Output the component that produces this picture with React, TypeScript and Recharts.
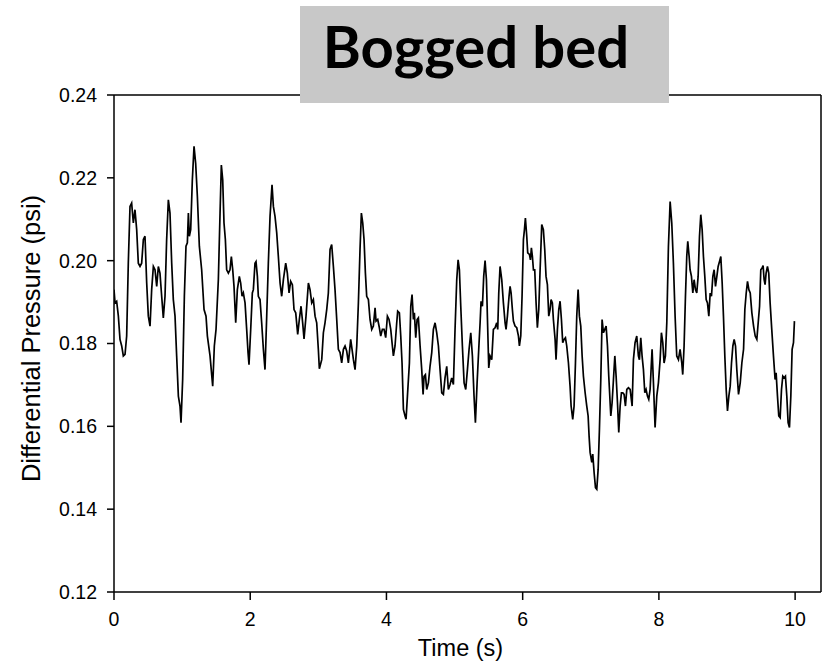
import { Line, LineChart, ReferenceLine, XAxis, YAxis } from "recharts";

// pressure trace, split into ~2 s chunks
const TIME_A = [
  0, 0.015, 0.039, 0.064, 0.088, 0.113, 0.137, 0.162, 0.186, 0.21,
  0.235, 0.259, 0.284, 0.308, 0.333, 0.357, 0.382, 0.406, 0.431, 0.455,
  0.48, 0.504, 0.529, 0.553, 0.578, 0.602, 0.627, 0.651, 0.675, 0.7,
  0.724, 0.749, 0.773, 0.798, 0.822, 0.847, 0.871, 0.896, 0.92, 0.945,
  0.969, 0.984, 1.008, 1.033, 1.057, 1.077, 1.092, 1.106, 1.126, 1.15,
  1.175, 1.199, 1.224, 1.253, 1.287, 1.322, 1.351, 1.371, 1.41, 1.449,
  1.473, 1.498, 1.532, 1.557, 1.576, 1.596, 1.615, 1.635, 1.654, 1.679,
  1.703, 1.723, 1.743, 1.762, 1.787, 1.811, 1.84,
];
const PSI_A = [
  0.193, 0.1898, 0.1902, 0.1866, 0.181, 0.1794, 0.177, 0.1774, 0.1818, 0.1994,
  0.2131, 0.2139, 0.2091, 0.2123, 0.2075, 0.1994, 0.1986, 0.1994, 0.2051, 0.2059,
  0.1946, 0.1866, 0.1842, 0.193, 0.1986, 0.1978, 0.1938, 0.1986, 0.197, 0.1914,
  0.1862, 0.1914, 0.2051, 0.2147, 0.2115, 0.1994, 0.1906, 0.1866, 0.177, 0.1673,
  0.1649, 0.1609, 0.1713, 0.1914, 0.2035, 0.2043, 0.2115, 0.2059, 0.2075, 0.2195,
  0.2276, 0.2235, 0.2155, 0.2035, 0.1978, 0.1882, 0.1866, 0.1818, 0.177, 0.1697,
  0.1794, 0.1834, 0.1954, 0.2115, 0.2231, 0.2195, 0.2091, 0.2051, 0.1978, 0.197,
  0.1978, 0.201, 0.1978, 0.1938, 0.185, 0.193, 0.1962,
];

const TIME_B = [
  1.86, 1.88, 1.899, 1.924, 1.948, 1.968, 1.982, 2.007, 2.031, 2.046,
  2.07, 2.085, 2.105, 2.119, 2.144, 2.168, 2.193, 2.217, 2.242, 2.266,
  2.291, 2.32, 2.34, 2.364, 2.389, 2.413, 2.438, 2.462, 2.487, 2.521,
  2.545, 2.57, 2.594, 2.619, 2.643, 2.668, 2.697, 2.721, 2.746, 2.77,
  2.79, 2.819, 2.854, 2.878, 2.903, 2.927, 2.952, 2.976, 3.0, 3.015,
  3.05, 3.074, 3.098, 3.123, 3.147, 3.172, 3.196, 3.221, 3.245, 3.27,
  3.294, 3.319, 3.343, 3.368, 3.392, 3.416, 3.441, 3.456, 3.475, 3.495,
  3.515, 3.539, 3.564, 3.588, 3.612, 3.632, 3.652, 3.671, 3.691, 3.71,
  3.735, 3.759,
];
const PSI_B = [
  0.1946, 0.1914, 0.1922, 0.1898, 0.1834, 0.1778, 0.1749, 0.1834, 0.1922, 0.193,
  0.1994, 0.1998, 0.1962, 0.1914, 0.1906, 0.185, 0.1786, 0.1737, 0.1866, 0.1994,
  0.2107, 0.2183, 0.2131, 0.2107, 0.2067, 0.201, 0.1946, 0.1914, 0.1954, 0.1994,
  0.197, 0.1922, 0.195, 0.1942, 0.1882, 0.1874, 0.1822, 0.1858, 0.189, 0.185,
  0.1811, 0.1866, 0.1946, 0.193, 0.1898, 0.1906, 0.1866, 0.185, 0.1786, 0.1739,
  0.1761, 0.1826, 0.185, 0.1882, 0.1922, 0.2027, 0.2039, 0.1986, 0.193, 0.1858,
  0.1786, 0.1778, 0.1753, 0.1786, 0.1794, 0.1782, 0.1753, 0.1778, 0.181, 0.1786,
  0.1761, 0.1737, 0.1794, 0.1898, 0.2027, 0.2115, 0.2091, 0.2051, 0.197, 0.1914,
  0.1906, 0.1858,
];

const TIME_C = [
  3.784, 3.808, 3.833, 3.847, 3.872, 3.896, 3.916, 3.94, 3.965, 3.989,
  4.014, 4.038, 4.063, 4.087, 4.102, 4.126, 4.151, 4.165, 4.19, 4.21,
  4.229, 4.249, 4.273, 4.288, 4.308, 4.337, 4.357, 4.376, 4.396, 4.41,
  4.43, 4.45, 4.469, 4.494, 4.518, 4.538, 4.552, 4.572, 4.591, 4.616,
  4.64, 4.665, 4.689, 4.714, 4.738, 4.763, 4.787, 4.812, 4.836, 4.86,
  4.885, 4.909, 4.934, 4.958, 4.983, 5.007, 5.032, 5.052, 5.071, 5.091,
  5.115, 5.14, 5.164, 5.189, 5.213, 5.238, 5.262, 5.286, 5.306, 5.331,
  5.355, 5.375, 5.389, 5.409, 5.428, 5.448, 5.468, 5.487, 5.502, 5.521,
  5.546, 5.57, 5.595, 5.619, 5.634, 5.649, 5.668,
];
const PSI_C = [
  0.1834, 0.1842, 0.1886, 0.1854, 0.1858, 0.1838, 0.1818, 0.1834, 0.1834, 0.1814,
  0.1866, 0.1858, 0.1834, 0.1794, 0.177, 0.1794, 0.185, 0.1878, 0.1874, 0.1818,
  0.1753, 0.1641, 0.1625, 0.1617, 0.1673, 0.1753, 0.189, 0.1918, 0.1858, 0.1874,
  0.1814, 0.1858, 0.1862, 0.1794, 0.1737, 0.1677, 0.1721, 0.1725, 0.1689, 0.1705,
  0.1745, 0.1778, 0.1834, 0.185, 0.1826, 0.1794, 0.1737, 0.1681, 0.1677, 0.1717,
  0.1745, 0.1689, 0.1701, 0.1717, 0.1701, 0.1834, 0.1954, 0.2002, 0.1978, 0.189,
  0.1794, 0.1705, 0.1689, 0.1737, 0.1786, 0.1826, 0.177, 0.1673, 0.1609, 0.1705,
  0.1786, 0.185, 0.1902, 0.189, 0.1962, 0.2, 0.1954, 0.1834, 0.1741, 0.177,
  0.1761, 0.1834, 0.1838, 0.185, 0.1834, 0.1922, 0.1986,
];

const TIME_D = [
  5.693, 5.717, 5.742, 5.756, 5.776, 5.8, 5.815, 5.83, 5.849, 5.864,
  5.888, 5.913, 5.938, 5.952, 5.972, 5.991, 6.011, 6.026, 6.04, 6.06,
  6.074, 6.099, 6.114, 6.128, 6.143, 6.158, 6.177, 6.197, 6.216, 6.236,
  6.256, 6.28, 6.304, 6.324, 6.343, 6.363, 6.383, 6.402, 6.417, 6.436,
  6.451, 6.476, 6.49, 6.51, 6.53, 6.549, 6.569, 6.588, 6.608, 6.628,
  6.647, 6.672, 6.696, 6.711, 6.735, 6.755, 6.775, 6.794, 6.814, 6.833,
  6.853, 6.873, 6.892, 6.917, 6.941, 6.961, 6.975, 6.99, 7.015, 7.029,
  7.049, 7.069, 7.088, 7.108, 7.127, 7.147, 7.166, 7.186, 7.206, 7.225,
  7.245, 7.264, 7.294, 7.313, 7.333, 7.353, 7.372, 7.392, 7.411, 7.431,
  7.45, 7.47, 7.489, 7.509, 7.529, 7.553, 7.578,
];
const PSI_D = [
  0.1954, 0.1898, 0.185, 0.1834, 0.1866, 0.1914, 0.1938, 0.1922, 0.1882, 0.1854,
  0.1842, 0.1838, 0.1818, 0.1794, 0.1818, 0.1914, 0.2051, 0.2075, 0.2103, 0.2059,
  0.2019, 0.2015, 0.2002, 0.2031, 0.201, 0.1978, 0.1978, 0.1898, 0.1838, 0.1882,
  0.1978, 0.2087, 0.2075, 0.2027, 0.1962, 0.1942, 0.1866, 0.1882, 0.1906, 0.1898,
  0.1858, 0.181, 0.1761, 0.1834, 0.1882, 0.1902, 0.1858, 0.1802, 0.181, 0.1814,
  0.1794, 0.1753, 0.1697, 0.1649, 0.1617, 0.1649, 0.1753, 0.1866, 0.193, 0.1866,
  0.1842, 0.177, 0.1721, 0.1681, 0.1649, 0.1625, 0.1577, 0.1537, 0.1513, 0.1533,
  0.1488, 0.1452, 0.1448, 0.1496, 0.1593, 0.1713, 0.1858, 0.1826, 0.1834, 0.1842,
  0.1794, 0.1721, 0.1625, 0.1657, 0.1713, 0.177, 0.1721, 0.1657, 0.1585, 0.1649,
  0.1681, 0.1681, 0.1677, 0.1649, 0.1689, 0.1693, 0.1689,
];

const TIME_E = [
  7.607, 7.626, 7.65, 7.675, 7.699, 7.714, 7.734, 7.753, 7.773, 7.793,
  7.812, 7.832, 7.851, 7.871, 7.9, 7.92, 7.944, 7.969, 7.993, 8.018,
  8.037, 8.057, 8.076, 8.096, 8.116, 8.14, 8.165, 8.189, 8.213, 8.238,
  8.262, 8.287, 8.311, 8.336, 8.35, 8.37, 8.39, 8.409, 8.424, 8.444,
  8.458, 8.478, 8.498, 8.517, 8.537, 8.556, 8.576, 8.596, 8.615, 8.635,
  8.654, 8.674, 8.694, 8.713, 8.733, 8.753, 8.772, 8.792, 8.811, 8.831,
  8.851, 8.87, 8.89, 8.909, 8.929, 8.948, 8.968, 8.988, 9.007, 9.027,
  9.047, 9.066, 9.086, 9.105, 9.125, 9.144, 9.169, 9.194, 9.218, 9.243,
  9.262, 9.282, 9.301, 9.321, 9.341, 9.365, 9.39, 9.414, 9.438, 9.458,
  9.478,
];
const PSI_E = [
  0.1649, 0.1761, 0.1802, 0.1818, 0.177, 0.1761, 0.1814, 0.177, 0.1737, 0.1681,
  0.1689, 0.1673, 0.1665, 0.1689, 0.1786, 0.1705, 0.1597, 0.1673, 0.1705, 0.1761,
  0.1826, 0.1802, 0.1753, 0.177, 0.185, 0.2035, 0.2143, 0.2091, 0.1994, 0.1866,
  0.177, 0.1761, 0.1786, 0.1753, 0.1725, 0.1794, 0.1914, 0.201, 0.2047, 0.201,
  0.1978, 0.1962, 0.1922, 0.1954, 0.193, 0.1922, 0.1962, 0.2059, 0.2111, 0.2075,
  0.201, 0.1962, 0.1906, 0.1898, 0.1866, 0.1922, 0.1914, 0.1962, 0.1978, 0.1938,
  0.1962, 0.1986, 0.1998, 0.201, 0.1946, 0.1866, 0.177, 0.1689, 0.1637, 0.1673,
  0.1697, 0.1753, 0.1794, 0.181, 0.1794, 0.1737, 0.1677, 0.1705, 0.1753, 0.1786,
  0.1882, 0.1922, 0.195, 0.193, 0.1922, 0.1874, 0.1842, 0.1818, 0.181, 0.185,
  0.189,
];

const TIME_F = [
  9.496, 9.515, 9.53, 9.545, 9.559, 9.574, 9.594, 9.613, 9.633, 9.657,
  9.682, 9.706, 9.721, 9.741, 9.76, 9.78, 9.8, 9.819, 9.839, 9.858,
  9.878, 9.897, 9.917, 9.937, 9.956, 9.976, 9.99,
];
const PSI_F = [
  0.1978, 0.1982, 0.1988, 0.1954, 0.1942, 0.197, 0.1986, 0.197, 0.1898, 0.1834,
  0.177, 0.1713, 0.1729, 0.1673, 0.1625, 0.1621, 0.1689, 0.1721, 0.1717, 0.1721,
  0.1673, 0.1609, 0.1597, 0.1673, 0.1786, 0.1802, 0.1854,
];

const X_TICKS = [0, 2, 4, 6, 8, 10];
const Y_TICKS = [0.12, 0.14, 0.16, 0.18, 0.2, 0.22, 0.24];
const X_MAX = 10.38;

const TIME_S = [...TIME_A, ...TIME_B, ...TIME_C, ...TIME_D, ...TIME_E, ...TIME_F];
const PRESSURE_PSI = [...PSI_A, ...PSI_B, ...PSI_C, ...PSI_D, ...PSI_E, ...PSI_F];

const data = TIME_S.map((t, i) => ({ t, p: PRESSURE_PSI[i] }));

const FONT = '"Liberation Sans", Arial, sans-serif';
const AXIS = { stroke: "#000", strokeWidth: 1.5 };
const TICK = { fill: "#000", fontSize: 19.5, fontFamily: FONT };

function PressureTitle(props: any) {
  const vb = props.viewBox ?? { x: 0, y: 95, width: 114, height: 497 };
  const x = vb.x + 31;
  const y = vb.y + vb.height / 2 - 5;
  return (
    <text
      x={x}
      y={y}
      transform={`rotate(-90, ${x}, ${y})`}
      textAnchor="middle"
      dominantBaseline="central"
      fontFamily={FONT}
      fontSize={25.5}
      fill="#000"
    >
      Differential Pressure (psi)
    </text>
  );
}

function TimeTitle(props: any) {
  const vb = props.viewBox ?? { x: 114, y: 592, width: 707, height: 70 };
  return (
    <text
      x={vb.x + vb.width / 2 - 7}
      y={vb.y + 64}
      textAnchor="middle"
      fontFamily={FONT}
      fontSize={23.5}
      fill="#000"
    >
      Time (s)
    </text>
  );
}

export default function App() {
  return (
    <div style={{ position: "absolute", left: 0, top: 0, width: 823, height: 662, background: "#fff" }}>
      <LineChart width={823} height={662} data={data} margin={{ top: 95, right: 2, bottom: 0, left: 0 }}>
        <XAxis
          dataKey="t"
          type="number"
          domain={[0, X_MAX]}
          ticks={X_TICKS}
          interval={0}
          allowDataOverflow
          height={70}
          tickSize={8}
          tickMargin={12}
          axisLine={AXIS}
          tickLine={AXIS}
          tick={TICK}
          label={<TimeTitle />}
        />
        <YAxis
          type="number"
          domain={[0.12, 0.24]}
          ticks={Y_TICKS}
          interval={0}
          allowDataOverflow
          width={114}
          tickSize={7}
          tickMargin={10}
          axisLine={AXIS}
          tickLine={AXIS}
          tickFormatter={(v: number) => v.toFixed(2)}
          tick={TICK}
          label={<PressureTitle />}
        />
        <ReferenceLine y={0.24} stroke="#000" strokeWidth={1.5} />
        <ReferenceLine x={X_MAX} stroke="#000" strokeWidth={1.5} />
        <Line
          type="linear"
          dataKey="p"
          stroke="#000"
          strokeWidth={1.7}
          dot={false}
          isAnimationActive={false}
        />
      </LineChart>
      <svg width={823} height={662} style={{ position: "absolute", left: 0, top: 0, pointerEvents: "none" }}>
        <rect x={300} y={6} width={369} height={97} fill="#c8c8c8" />
        <text
          x={476}
          y={68}
          textAnchor="middle"
          fontFamily="Lato, 'Open Sans', sans-serif"
          fontWeight={700}
          fontSize={58}
          fill="#000"
        >
          Bogged bed
        </text>
      </svg>
    </div>
  );
}
